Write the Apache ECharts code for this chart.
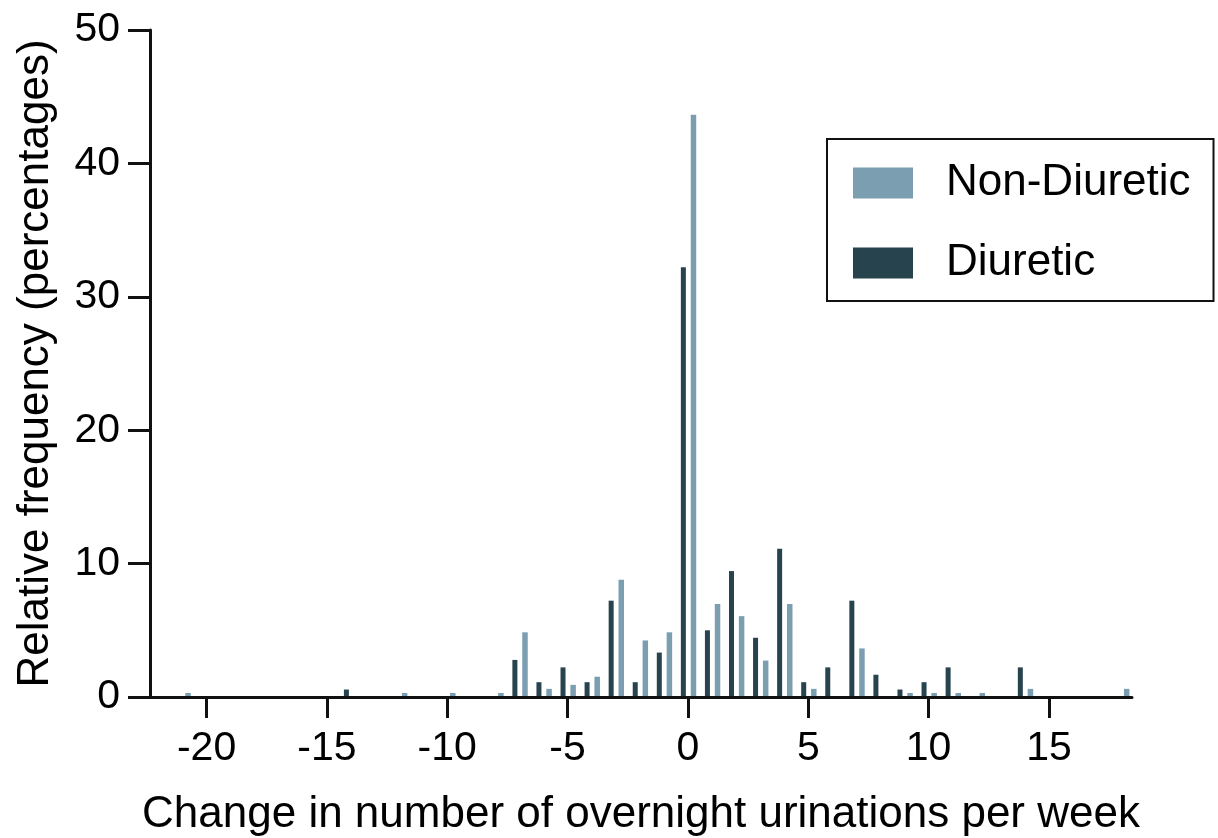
<!DOCTYPE html>
<html>
<head>
<meta charset="utf-8">
<script src="https://cdn.jsdelivr.net/npm/echarts@6/dist/echarts.min.js"></script>
<style>
html,body{margin:0;padding:0;background:#fff;}
#chart{width:1218px;height:838px;}
</style>
</head>
<body>
<div id="chart"></div>
<script>
// Change in number of overnight urinations per week (x) and relative frequency in % (y)
const nonDiureticX = [-21, -12, -10, -8, -7, -6, -5, -4, -3, -2, -1, 0, 1, 2, 3, 4, 5, 7, 9, 10, 11, 12, 14, 18];
const nonDiureticY = [0.30, 0.30, 0.30, 0.30, 4.85, 0.61, 0.91, 1.52, 8.79, 4.24, 4.85, 43.64, 6.97, 6.06, 2.73, 6.97, 0.61, 3.64, 0.30, 0.30, 0.30, 0.30, 0.61, 0.61];
const diureticX = [-14, -7, -6, -5, -4, -3, -2, -1, 0, 1, 2, 3, 4, 5, 6, 7, 8, 9, 10, 11, 14];
const diureticY = [0.56, 2.78, 1.11, 2.22, 1.11, 7.22, 1.11, 3.33, 32.22, 5.00, 9.44, 4.44, 11.11, 1.11, 2.22, 7.22, 1.67, 0.56, 1.11, 2.22, 2.22];
const xTicks = [-20, -15, -10, -5, 0, 5, 10, 15];
const yTicks = [0, 10, 20, 30, 40, 50];
const seriesNames = ['Non-Diuretic', 'Diuretic'];
const xTitle = 'Change in number of overnight urinations per week';
const yTitle = 'Relative frequency (percentages)';

const LIGHT = '#7b9eb0';
const DARK = '#27434e';
const FONT = '"Liberation Sans", Arial, Helvetica, sans-serif';

function pairs(xs, ys) { return xs.map((x, i) => [x, ys[i]]); }

function barRenderer(offset, width, color) {
  return function (params, api) {
    const x = api.value(0), y = api.value(1);
    const top = api.coord([x + offset, y]);
    const base = api.coord([x + offset, 0]);
    return {
      type: 'rect',
      shape: { x: top[0] - width / 2, y: top[1], width: width, height: base[1] - top[1] },
      style: { fill: color }
    };
  };
}

const chart = echarts.init(document.getElementById('chart'), null, { renderer: 'canvas' });
chart.setOption({
  animation: false,
  backgroundColor: '#fff',
  textStyle: { fontFamily: FONT },
  grid: { left: 150, right: 86, top: 30, bottom: 141, containLabel: false, outerBoundsMode: 'none' },
  legend: {
    orient: 'vertical',
    left: 827,
    top: 139,
    padding: [22, 23, 16, 26],
    itemGap: 36,
    itemWidth: 60,
    itemHeight: 31,
    icon: 'rect',
    borderColor: '#111',
    borderWidth: 2,
    data: seriesNames,
    textStyle: { fontSize: 44, color: '#000', fontFamily: FONT, padding: [0, 0, 0, 28] }
  },
  xAxis: {
    type: 'value',
    min: -22.35,
    max: 18.45,
    z: 5,
    name: xTitle,
    nameLocation: 'middle',
    nameGap: 96,
    nameTextStyle: { fontSize: 44, color: '#000', fontFamily: FONT },
    axisLine: { show: true, onZero: false, lineStyle: { color: '#111', width: 3 } },
    axisTick: { show: true, inside: false, length: 21, lineStyle: { color: '#111', width: 3 }, customValues: xTicks },
    axisLabel: { fontSize: 41, color: '#000', margin: 31, fontFamily: FONT, customValues: xTicks },
    splitLine: { show: false }
  },
  yAxis: {
    type: 'value',
    min: 0,
    max: 50,
    interval: 10,
    z: 5,
    name: yTitle,
    nameLocation: 'middle',
    nameGap: 92,
    nameTextStyle: { fontSize: 44, color: '#000', fontFamily: FONT },
    axisLine: { show: true, onZero: false, lineStyle: { color: '#111', width: 3 } },
    axisTick: { show: true, inside: false, length: 22, lineStyle: { color: '#111', width: 3 }, customValues: yTicks },
    axisLabel: { fontSize: 41, color: '#000', margin: 30, fontFamily: FONT, customValues: yTicks },
    splitLine: { show: false }
  },
  series: [
    {
      name: seriesNames[0],
      type: 'custom',
      itemStyle: { color: LIGHT },
      renderItem: barRenderer(0.23, 5.5, LIGHT),
      encode: { x: 0, y: 1 },
      data: pairs(nonDiureticX, nonDiureticY)
    },
    {
      name: seriesNames[1],
      type: 'custom',
      itemStyle: { color: DARK },
      renderItem: barRenderer(-0.19, 5, DARK),
      encode: { x: 0, y: 1 },
      data: pairs(diureticX, diureticY)
    }
  ]
});
</script>
</body>
</html>
